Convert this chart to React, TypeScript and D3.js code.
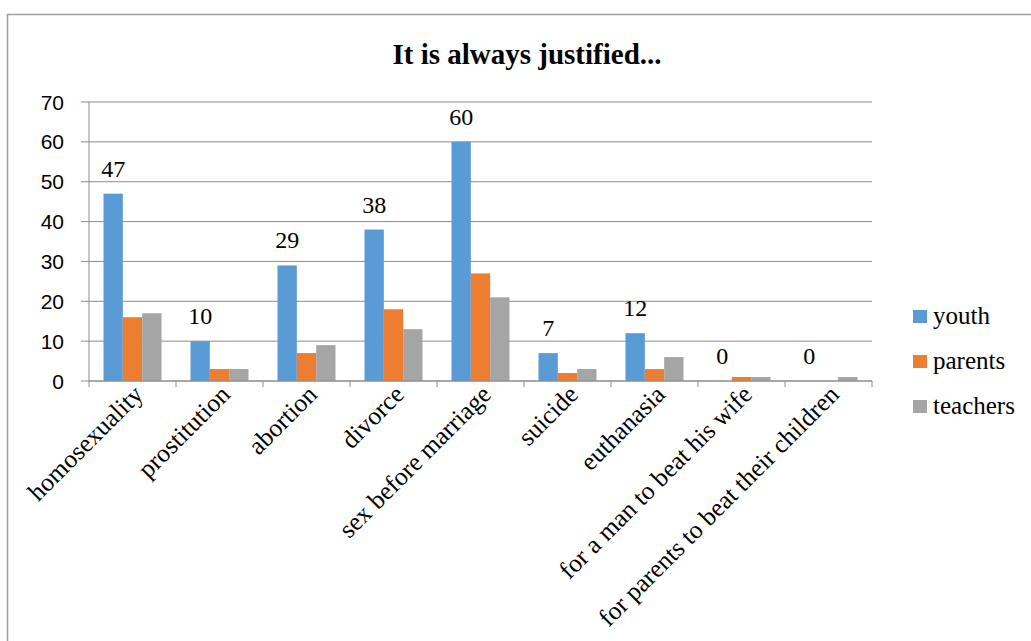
import React from "react";
import * as d3 from "d3";

const categories = [
  "homosexuality",
  "prostitution",
  "abortion",
  "divorce",
  "sex before marriage",
  "suicide",
  "euthanasia",
  "for a man to beat his wife",
  "for parents to beat their children",
];
const youth = [47, 10, 29, 38, 60, 7, 12, 0, 0];
const parents = [16, 3, 7, 18, 27, 2, 3, 1, 0];
const teachers = [17, 3, 9, 13, 21, 3, 6, 1, 1];
const seriesNames = ["youth", "parents", "teachers"];
const seriesColors = ["#5B9BD5", "#ED7D31", "#A5A5A5"];
const yTicks = [0, 10, 20, 30, 40, 50, 60, 70];
const title = "It is always justified...";

export default function App() {
  const W = 1031;
  const H = 641;
  const left = 89;
  const right = 872;
  const top = 102;
  const bottom = 381;
  const series = [youth, parents, teachers];

  const x = d3.scaleBand<string>().domain(categories).range([left, right]).paddingInner(0).paddingOuter(0);
  const bw = x.bandwidth();
  const xs = d3
    .scaleBand<string>()
    .domain(seriesNames)
    .range([bw / 6, (bw * 5) / 6])
    .padding(0);
  const y = d3.scaleLinear().domain([0, 70]).range([bottom, top]);
  const gridColor = "#8C8C8C";
  const serif = "'Liberation Serif', 'Times New Roman', serif";

  return (
    <svg
      width={W}
      height={H}
      style={{ position: "absolute", left: 0, top: 0, background: "#fff" }}
    >
      <rect x={7.5} y={14.5} width={W + 20} height={H + 20} fill="#fff" stroke="#A0A0A0" strokeWidth={1.5} />
      <text x={527} y={64} textAnchor="middle" fontFamily={serif} fontWeight="bold" fontSize={29} fill="#000">
        {title}
      </text>

      {yTicks.map((t) => (
        <g key={t}>
          <line x1={81} x2={right} y1={y(t)} y2={y(t)} stroke={gridColor} strokeWidth={1} />
          <text
            x={64}
            y={y(t)}
            dy="0.36em"
            textAnchor="end"
            fontFamily="'Liberation Sans', Arial, sans-serif"
            fontSize={21}
            fill="#000"
          >
            {t}
          </text>
        </g>
      ))}
      <line x1={left} x2={left} y1={top} y2={bottom} stroke={gridColor} strokeWidth={1} />

      {series.map((vals, si) =>
        vals.map((v, ci) => {
          const cx = (x(categories[ci]) as number) + (xs(seriesNames[si]) as number);
          return (
            <rect
              key={`${si}-${ci}`}
              x={cx}
              y={y(v)}
              width={xs.bandwidth()}
              height={bottom - y(v)}
              fill={seriesColors[si]}
            />
          );
        })
      )}

      <line x1={left} x2={right} y1={bottom} y2={bottom} stroke={gridColor} strokeWidth={1} />
      {d3.range(categories.length + 1).map((i) => {
        const xx = left + i * bw;
        return <line key={i} x1={xx} x2={xx} y1={bottom} y2={bottom + 6} stroke={gridColor} strokeWidth={1} />;
      })}

      {youth.map((v, ci) => {
        const cx = (x(categories[ci]) as number) + (xs("youth") as number) + xs.bandwidth() / 2;
        return (
          <text key={ci} x={cx} y={y(v) - 17} textAnchor="middle" fontFamily={serif} fontSize={24} fill="#000">
            {v}
          </text>
        );
      })}

      {categories.map((c) => {
        const cx = (x(c) as number) + bw / 2;
        return (
          <text
            key={c}
            transform={`translate(${cx + 12},${bottom + 15}) rotate(-45)`}
            textAnchor="end"
            fontFamily={serif}
            fontSize={25.5}
            fill="#000"
          >
            {c}
          </text>
        );
      })}

      {seriesNames.map((s, i) => (
        <g key={s} transform={`translate(913, ${324 + i * 45})`}>
          <rect x={0} y={-14} width={14} height={13} fill={seriesColors[i]} />
          <text x={20} y={0} fontFamily={serif} fontSize={25} fill="#000">
            {s}
          </text>
        </g>
      ))}
    </svg>
  );
}
